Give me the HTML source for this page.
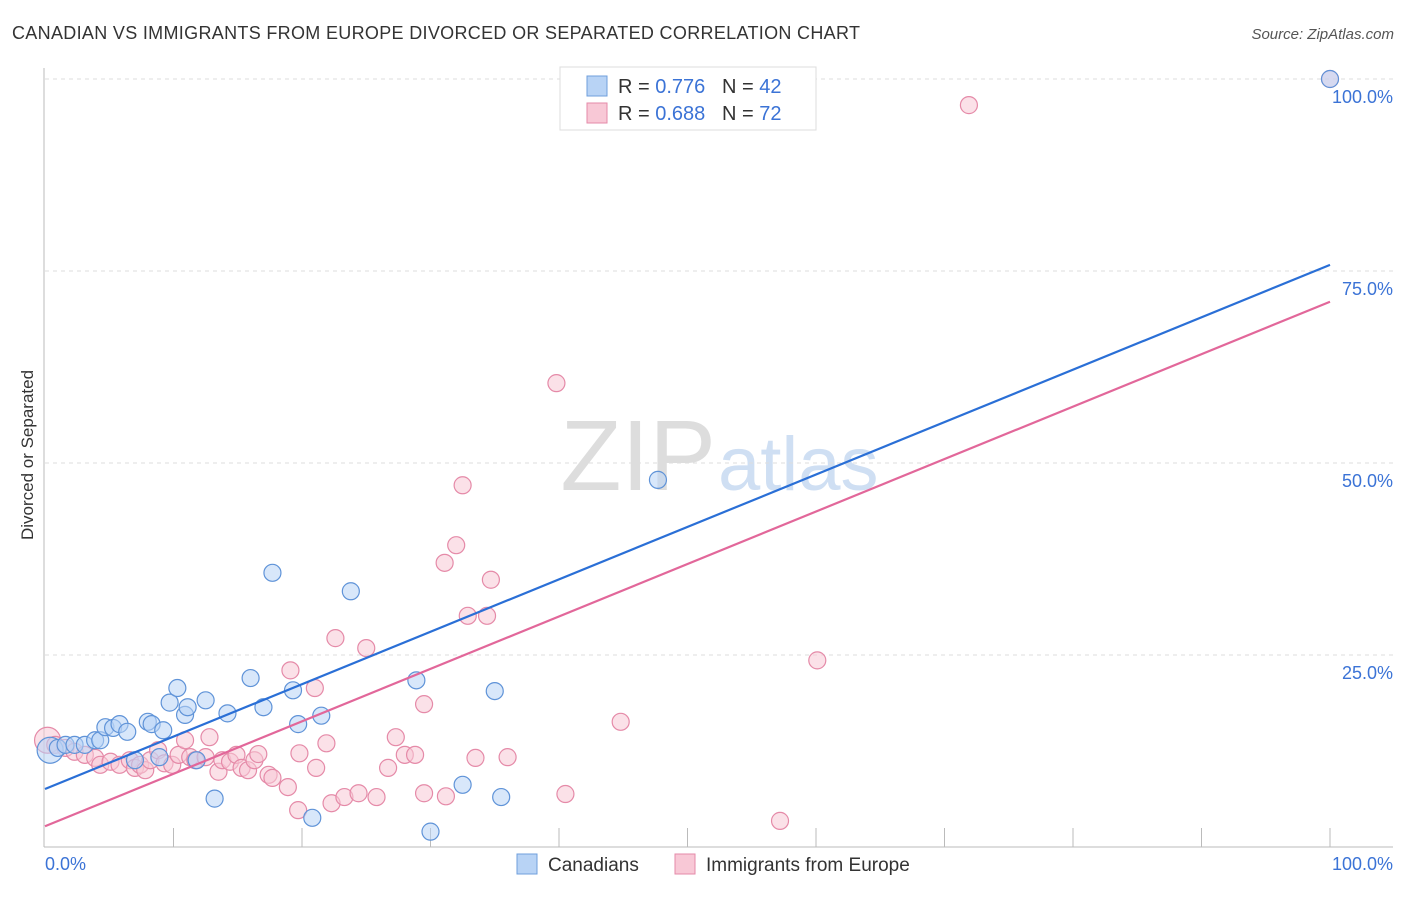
<!DOCTYPE html>
<html><head><meta charset="utf-8"><style>
body{margin:0;background:#fff;font-family:"Liberation Sans",sans-serif}
svg text{font-family:"Liberation Sans",sans-serif}
</style></head><body>
<svg id="chart" width="1406" height="892">
<text x="12" y="39" font-size="18" fill="#333" textLength="848">CANADIAN VS IMMIGRANTS FROM EUROPE DIVORCED OR SEPARATED CORRELATION CHART</text>
<text x="1394" y="39" font-size="15" font-style="italic" fill="#555" text-anchor="end">Source: ZipAtlas.com</text>
<text x="716" y="490" font-size="100" font-family="Liberation Serif" fill="#ddd" text-anchor="end">ZIP</text>
<text x="718" y="490" font-size="76" fill="#cfdff3">atlas</text>
<text transform="translate(33,455) rotate(-90)" font-size="17" fill="#333" text-anchor="middle">Divorced or Separated</text>
<g id="grid"></g><g id="axes"></g><g id="marks"></g><g id="lines"></g>
<g>
<rect x="560" y="67" width="256" height="63" fill="#fff" stroke="#ddd"/>
<rect x="587" y="76" width="20" height="20" fill="#b8d3f5" stroke="#6f9fdc"/>
<text x="618" y="93" font-size="20" fill="#333">R = <tspan fill="#3b73d6">0.776</tspan>&#160;&#160;&#160;N = <tspan fill="#3b73d6">42</tspan></text>
<rect x="587" y="103" width="20" height="20" fill="#f8c8d6" stroke="#e58aa8"/>
<text x="618" y="120" font-size="20" fill="#333">R = <tspan fill="#3b73d6">0.688</tspan>&#160;&#160;&#160;N = <tspan fill="#3b73d6">72</tspan></text>
</g>
<g>
<rect x="517" y="854" width="20" height="20" fill="#b8d3f5" stroke="#6f9fdc"/>
<text x="548" y="871" font-size="19" fill="#333">Canadians</text>
<rect x="675" y="854" width="20" height="20" fill="#f8c8d6" stroke="#e58aa8"/>
<text x="706" y="871" font-size="19" fill="#333">Immigrants from Europe</text>
</g>
</svg>
<script>
const yTicks=[25,50,75,100];
const blueX=[0.4,1.0,1.6,2.3,3.1,3.9,4.3,4.7,5.3,5.8,6.4,8.0,8.3,9.2,9.7,10.3,10.9,11.1,12.5,13.2,14.2,16.0,17.0,17.7,19.3,19.7,20.8,21.5,23.8,28.9,30.0,32.5,35.0,35.5,47.7,100,8.9,11.8,7.0];
const blueY=[12.6,12.9,13.3,13.3,13.3,13.9,13.9,15.6,15.5,16.0,15.0,16.3,16.0,15.2,18.8,20.7,17.2,18.2,19.1,6.3,17.4,22.0,18.2,35.7,20.4,16.0,3.8,17.1,33.3,21.7,2.0,8.1,20.3,6.5,47.8,100,11.7,11.3,11.3];
const pinkX=[0.2,0.8,1.6,2.3,3.1,3.9,4.3,5.1,5.8,6.6,7.0,7.4,7.8,8.2,8.8,9.3,9.9,10.4,10.9,11.3,11.7,12.5,12.8,13.5,13.8,14.4,14.9,15.3,15.8,16.3,16.6,17.4,17.7,18.9,19.1,19.7,19.8,21.0,21.1,21.9,22.3,22.6,23.3,24.4,25.0,25.8,26.7,27.3,28.0,28.8,29.5,29.5,31.2,31.1,32.0,32.5,32.9,33.5,34.4,34.7,36.0,39.8,40.5,44.8,57.2,60.1,71.9,100];
const pinkY=[13.9,13.3,12.9,12.4,12.0,11.6,10.7,11.1,10.7,11.3,10.3,10.7,10.0,11.3,12.6,10.9,10.7,12.0,13.9,11.7,11.3,11.7,14.3,9.8,11.3,11.1,12.0,10.3,10.0,11.3,12.1,9.4,9.0,7.8,23.0,4.8,12.2,20.7,10.3,13.5,5.7,27.2,6.5,7.0,25.9,6.5,10.3,14.3,12.0,12.0,18.6,7.0,6.6,37.0,39.3,47.1,30.1,11.6,30.1,34.8,11.7,60.4,6.9,16.3,3.4,24.3,96.6,100];
const blueLine=[7.55,75.8];
const pinkLine=[2.7,71.0];
const NS="http://www.w3.org/2000/svg";
const X=v=>45+v*12.85, Y=v=>847-v*7.68;
function mk(tag,at,parent){const e=document.createElementNS(NS,tag);for(const k in at)e.setAttribute(k,at[k]);document.getElementById(parent).appendChild(e);return e;}
yTicks.forEach(t=>{
 const g=mk('line',{x1:45,x2:1393,y1:Y(t),y2:Y(t),stroke:'#ddd','stroke-dasharray':'4,4'},'grid');
 
 
 const l=mk('text',{x:1393,y:Y(t)+24,'font-size':18,fill:'#3b73d6','text-anchor':'end'},'grid');
 l.textContent=t.toFixed(1)+'%';
 
 
});
const ax=mk('line',{x1:44,x2:44,y1:68,y2:847,stroke:'#bbb'},'axes');


const bx=mk('line',{x1:44,x2:1393,y1:847,y2:847,stroke:'#bbb'},'axes');


for(let i=1;i<=10;i++){const t=mk('line',{x1:X(i*10),x2:X(i*10),y1:847,y2:828,stroke:'#bbb'},'axes');
 
 }
[['0.0%',45,'start'],['100.0%',1393,'end']].forEach(a=>{const t=mk('text',{x:a[1],y:870,'font-size':18,fill:'#3b73d6','text-anchor':a[2]},'axes');t.textContent=a[0];
 
 });
function pts(xs,ys,fill,stroke,name){xs.forEach((x,i)=>{const big=i===0&&x<1;
 const c=mk('circle',{cx:X(x),cy:Y(ys[i]),r:big?13:8.5,fill:fill,'fill-opacity':0.55,stroke:stroke,'stroke-width':1.2},'marks');
 
 });}
pts(pinkX,pinkY,'#f8c8d6','#e58aa8','immigrant-point');
pts(blueX,blueY,'#b8d3f5','#5f93d8','canadian-point');
function ln(p,col,name){const l=mk('line',{x1:X(0),y1:Y(p[0]),x2:X(100),y2:Y(p[1]),stroke:col,'stroke-width':2.2},'lines');
 
 }
ln(blueLine,'#2a6fd6','canadians-trend-line');
ln(pinkLine,'#e2679a','immigrants-trend-line');
</script>
</body></html>
